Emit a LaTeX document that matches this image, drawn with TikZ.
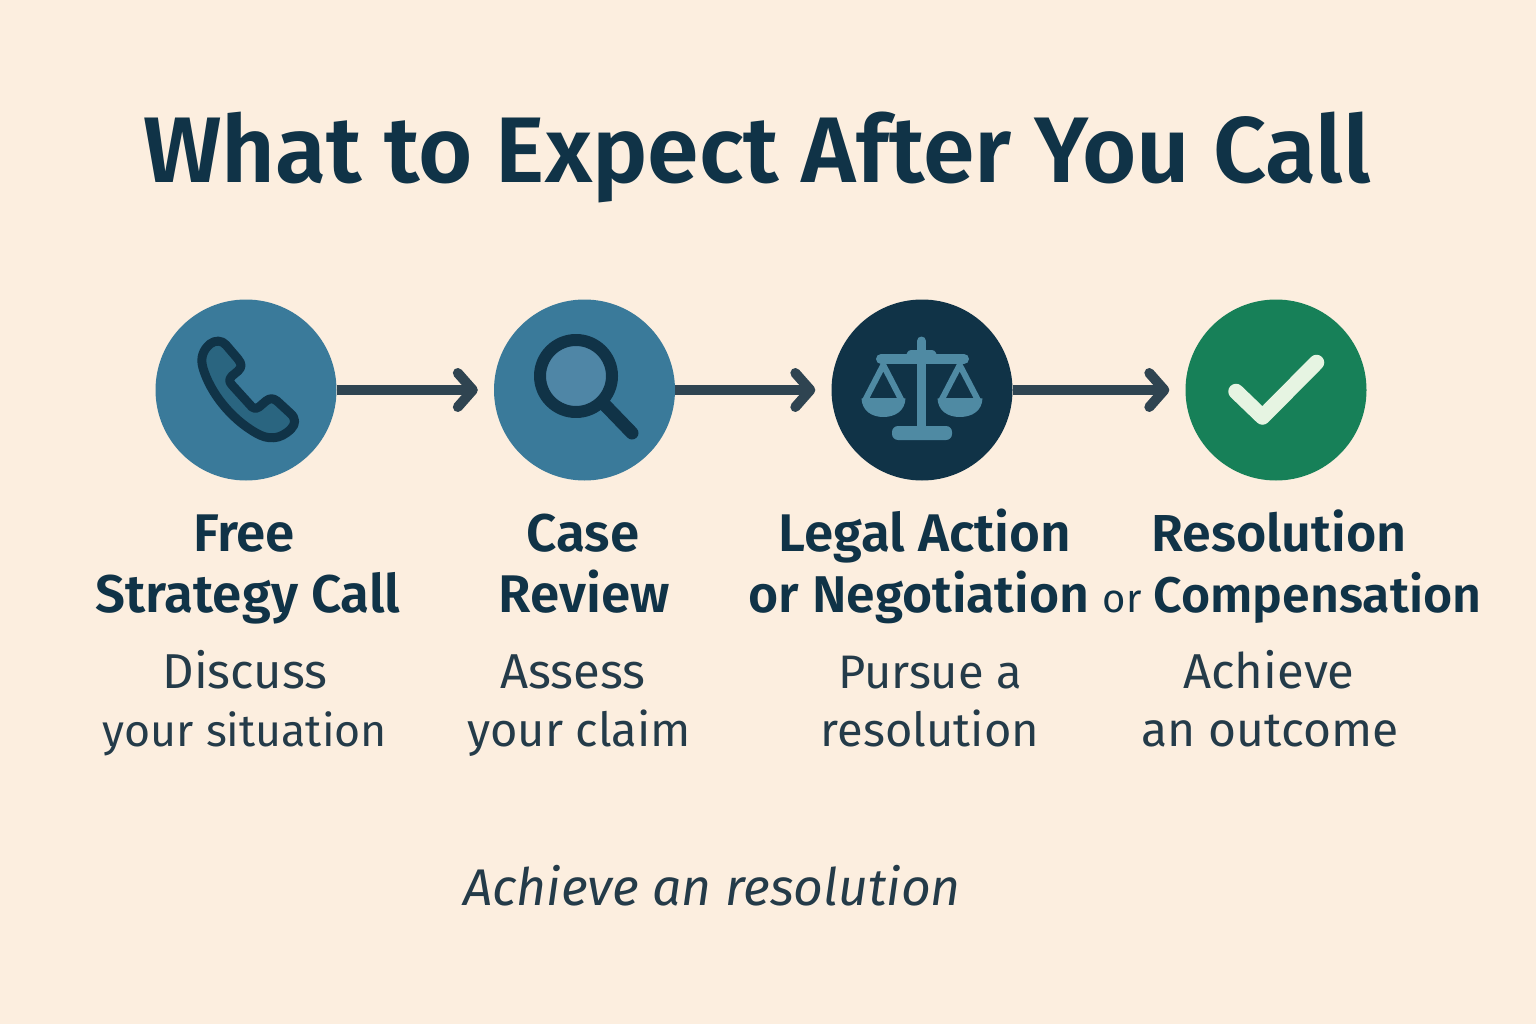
\documentclass[tikz,border=0pt]{standalone}
\usepackage{fontspec}
\usepackage{xcolor}
\usetikzlibrary{arrows.meta}
\setmainfont{Fira Sans}
\newfontfamily\boldface{Fira Sans SemiBold}
\definecolor{paper}{HTML}{FCEEDF}
\definecolor{ink}{HTML}{103347}
\definecolor{body}{HTML}{243B49}
\definecolor{arrowgray}{HTML}{2F4451}
\definecolor{steel}{HTML}{3A7A9A}
\definecolor{lens}{HTML}{4F86A6}
\definecolor{handset}{HTML}{2A6580}
\definecolor{scalecol}{HTML}{4F8AA3}
\definecolor{leaf}{HTML}{178058}
\definecolor{tick}{HTML}{E6F4E2}
\tikzset{
  disc/.style={circle, minimum size=181pt, inner sep=0pt},
  flow/.style={line width=10pt, draw=arrowgray, shorten >=16pt,
    -{Straight Barb[length=15pt, width=34pt, round, line width=10pt]}},
  title/.style={anchor=base, text=ink, font=\boldface\fontsize{93.2}{93}\selectfont},
  head/.style={anchor=base, text=ink, font=\boldface\fontsize{53}{53}\selectfont},
  desc/.style={anchor=base, text=body, font=\fontsize{47}{47}\selectfont},
  descwide/.style={desc, font=\fontsize{49}{49}\selectfont},
  glyph/.style={draw=ink, line cap=round, line join=round},
}

\begin{document}
\begin{tikzpicture}[x=1pt, y=-1pt]
  \fill[paper] (0,0) rectangle (1536,1024);
  \useasboundingbox (0,0) rectangle (1536,1024);

  \node[title] (heading) at (757,183) {What to Expect After You Call};

  % the four steps
  \node[disc, fill=steel] (call) at (246,390) {};
  \node[disc, fill=steel] (review) at (584.5,390) {};
  \node[disc, fill=ink] (action) at (922,390) {};
  \node[disc, fill=leaf] (outcome) at (1276,390) {};

  \draw[flow] (call) -- (review);
  \draw[flow] (review) -- (action);
  \draw[flow] (action) -- (outcome);

  % phone
  \draw[glyph, line width=9pt, fill=handset] (210,344)
    .. controls (215,340) and (222,340) .. (226,345) -- (238,359)
    .. controls (242,364) and (242,367) .. (238,371) -- (232,376)
    .. controls (229,379) and (229,382) .. (232,385) -- (252,407)
    .. controls (254,409) and (257,409) .. (259,407) -- (266,401)
    .. controls (270,398) and (273,398) .. (277,401) -- (290,413)
    .. controls (296,418) and (296,424) .. (291,429)
    .. controls (280,440) and (268,440) .. (256,433)
    .. controls (230,418) and (210,392) .. (203,368)
    .. controls (200,358) and (203,350) .. (210,344) -- cycle;

  % magnifier
  \draw[glyph, line width=13pt] (604,404) -- (632,433);
  \draw[glyph, line width=12pt, fill=lens] (576,376) circle (36);

  % scales
  \draw[scalecol, line width=9pt, line cap=round] (921.5,341) -- (921.5,430);
  \draw[scalecol, line width=10pt, line cap=round] (881,359) -- (964,359);
  \fill[scalecol, rounded corners=3pt] (905,359) -- (908,350) -- (935,350) -- (938,359) -- cycle;
  \fill[scalecol, rounded corners=6pt] (892,426) rectangle (952,440);
  \draw[scalecol, line width=6pt, line join=round] (883.3,365) -- (864.7,401) -- (901.9,401) -- cycle;
  \fill[scalecol] (861.5,398.3) .. controls (862,411) and (872,417) .. (883.3,417)
    .. controls (895,417) and (905,411) .. (905.5,398.3) -- cycle;
  \draw[scalecol, line width=6pt, line join=round] (959.7,365) -- (941,401) -- (978.4,401) -- cycle;
  \fill[scalecol] (937.5,398.3) .. controls (938,411) and (948,417) .. (959.7,417)
    .. controls (972,417) and (982,411) .. (982.5,398.3) -- cycle;

  % check mark
  \draw[tick, line width=15.5pt, line cap=round, line join=round]
    (1236,391.5) -- (1262.5,417) -- (1316.5,362.5);

  % step labels
  \node[head] (callA) at (244,551) {Free};
  \node[head] (callB) at (248,612) {Strategy Call};
  \node[descwide] (callC) at (245,688) {Discuss};
  \node[desc, font=\fontsize{44.7}{45}\selectfont] (callD) at (245,746) {your situation};

  \node[head] (reviewA) at (583,551) {Case};
  \node[head] (reviewB) at (584,612) {Review};
  \node[descwide] (reviewC) at (573,688) {Assess};
  \node[desc] (reviewD) at (579,746) {your claim};

  \node[head] (actionA) at (925,551) {Legal Action};
  \node[head, font=\boldface\fontsize{51.7}{52}\selectfont] (actionB) at (919,612) {or Negotiation};
  \node[desc] (actionC) at (930,688) {Pursue a};
  \node[desc] (actionD) at (930,746) {resolution};

  \node[head, font=\boldface\fontsize{52}{52}\selectfont] (outcomeA) at (1279,551) {Resolution};
  \node[head, font=\boldface\fontsize{50}{50}\selectfont] (outcomeB) at (1292,612) {{\normalfont\fontsize{40}{40}\selectfont or} Compensation};
  \node[descwide] (outcomeC) at (1269,688) {Achieve};
  \node[desc, font=\fontsize{48}{48}\selectfont] (outcomeD) at (1270,746) {an outcome};

  \node[desc, font=\itshape\fontsize{51.6}{52}\selectfont] (closing) at (712,905) {Achieve an resolution};
\end{tikzpicture}
\end{document}
